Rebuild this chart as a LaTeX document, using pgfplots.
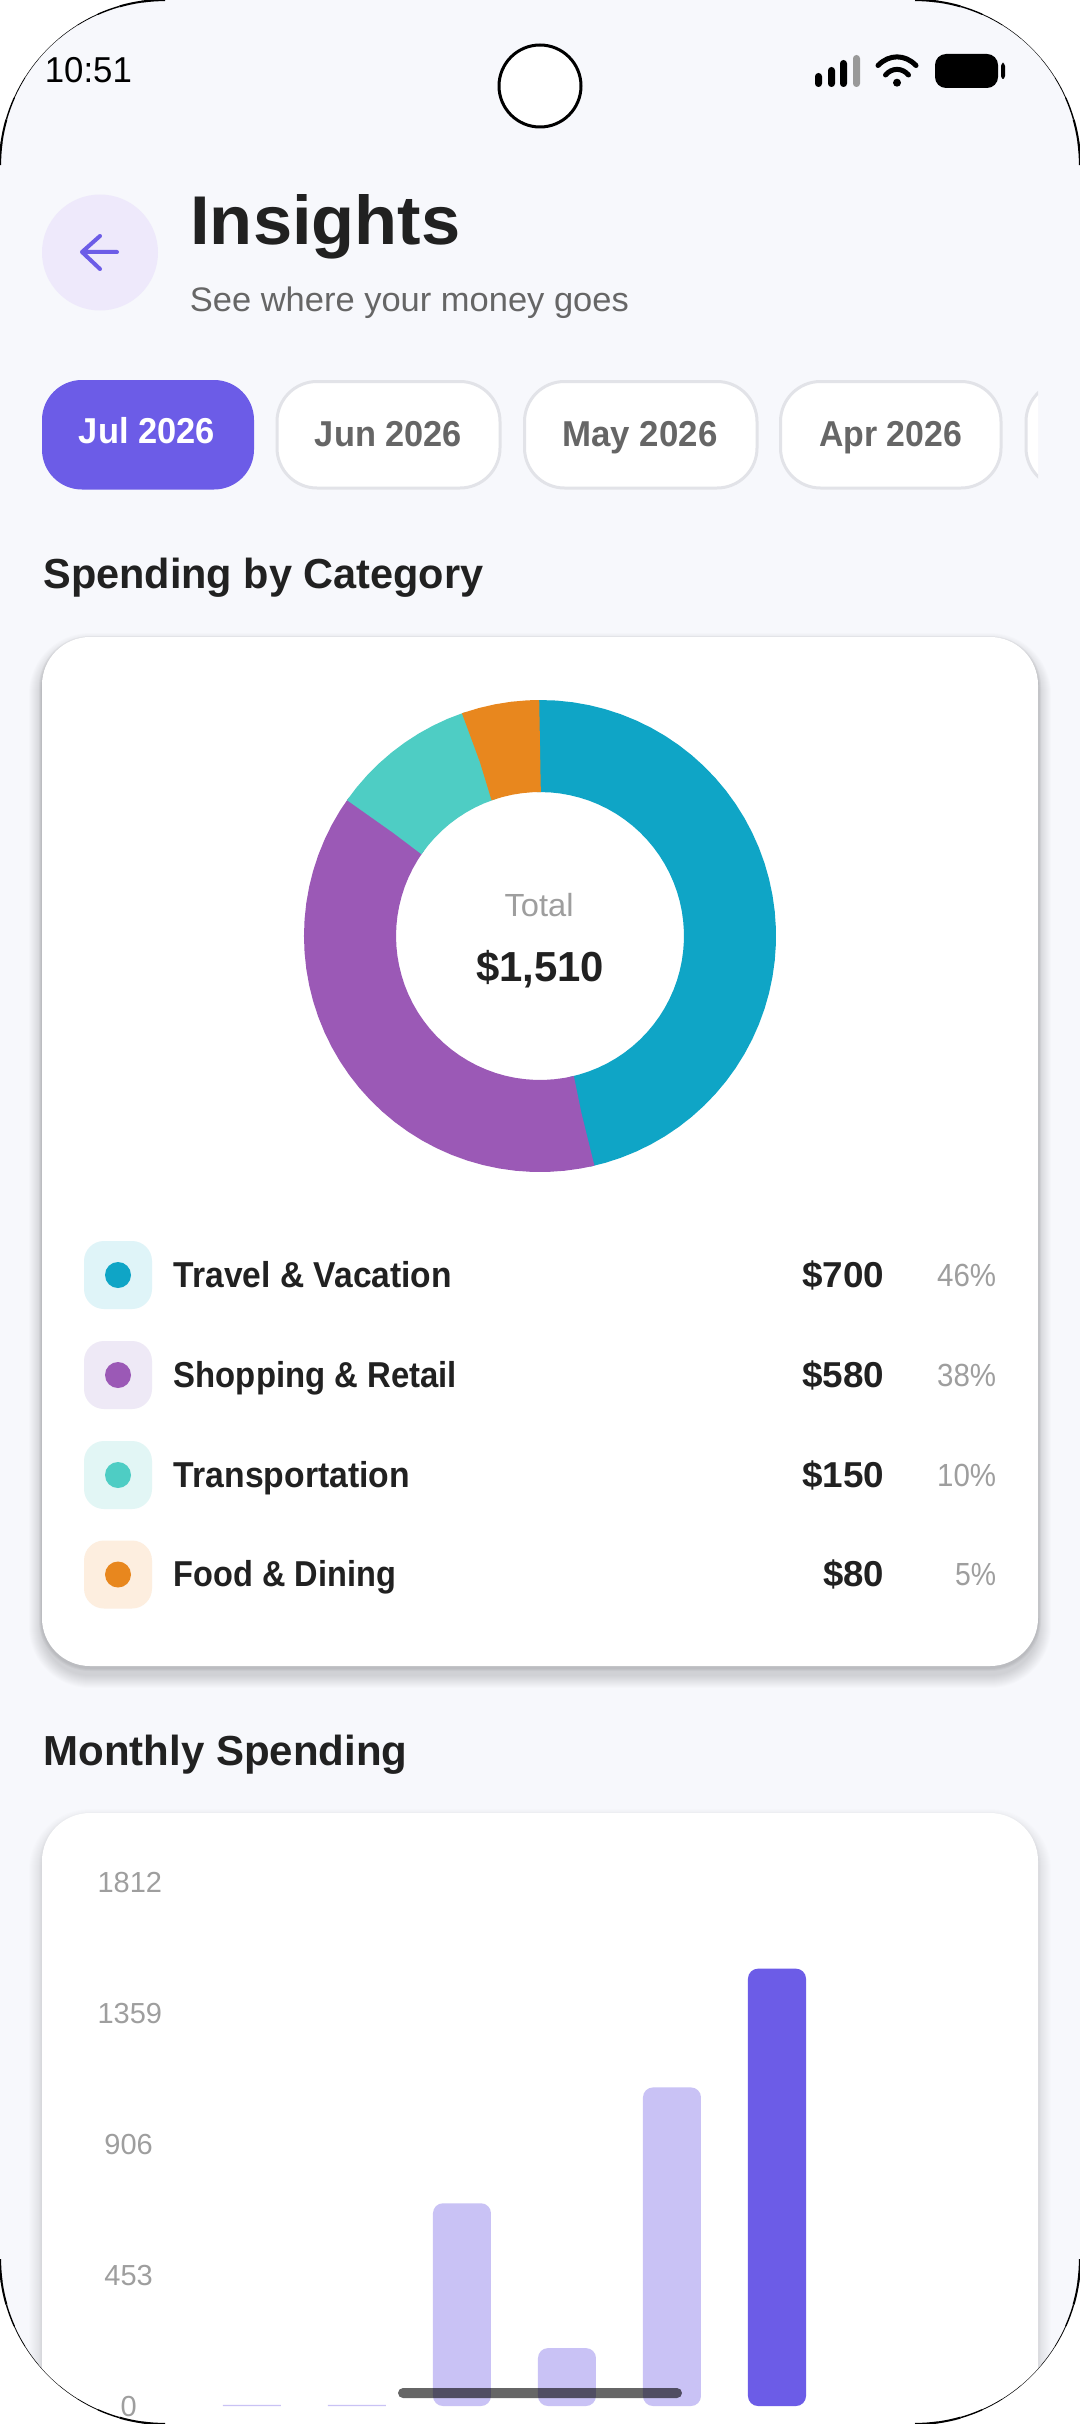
\documentclass[border=0pt]{standalone}
\usepackage{fontspec}
\usepackage{graphicx}
\usepackage{pgfplots}
\pgfplotsset{compat=1.18}
\setmainfont{Liberation Sans}
\definecolor{bg}{HTML}{F7F8FC}
\definecolor{accent}{HTML}{6C5CE7}
\definecolor{soft}{HTML}{C9C2F5}
\definecolor{backc}{HTML}{EEE9FB}
\definecolor{ink}{HTML}{212121}
\definecolor{mid}{HTML}{666666}
\definecolor{muted}{HTML}{9E9E9E}
\definecolor{chipb}{HTML}{E2E3E8}
\definecolor{cTravel}{HTML}{0FA5C6}
\definecolor{cShop}{HTML}{9B59B6}
\definecolor{cTrans}{HTML}{4ECDC4}
\definecolor{cFood}{HTML}{E8871E}
\definecolor{iTravel}{HTML}{DFF4F8}
\definecolor{iShop}{HTML}{EEE9F6}
\definecolor{iTrans}{HTML}{E2F6F5}
\definecolor{iFood}{HTML}{FDEEDF}
% anchor, x px, y px, font pt, width pt, colour, text
\newcommand{\T}[7]{\node[anchor=#1,inner sep=0pt,text=#6] at (#2,#3)
  {\fontsize{#4pt}{#4pt}\selectfont\resizebox{#5pt}{\height}{#7}};}
% x0,y0,x1,y1,opacity of the wide and of the tight shadow
\newcommand{\Card}[6]{%
  \foreach \k in {13,...,1}{
    \pgfmathsetmacro{\rr}{24+0.5*\k}
    \fill[black,opacity=#5,rounded corners=\rr pt]
      ({#1-\k},{#2-\k+9}) rectangle ({#3+\k},{#4+\k+9});
  }
  \foreach \k in {3,...,1}{
    \pgfmathsetmacro{\rr}{24+0.5*\k}
    \fill[black,opacity=#6,rounded corners=\rr pt]
      ({#1-\k},{#2-\k+2}) rectangle ({#3+\k},{#4+\k+2});
  }
  \fill[white,rounded corners=24pt] (#1,#2) rectangle (#3,#4);
}
\newcommand{\Corner}{%
  \foreach \a/\b/\w in {180/172/1.1,172/164/1.0,164/156/0.7,156/148/0.4,148/140/0.25,140/130/0.18,130/122/0.25,122/114/0.4,114/106/0.7,106/98/1.0,98/90/1.1}{
    \draw[black,line width=\w pt] ({165+165*cos(\a)},{165-165*sin(\a)})
      arc[start angle=\a,end angle=\b,radius=82.5pt];
  }%
}
\begin{document}
\begin{tikzpicture}
\path[use as bounding box] (0pt,0pt) rectangle (540pt,-1212pt);
\fill[white] (0pt,0pt) rectangle (540pt,-1212pt);
\begin{scope}
\clip[rounded corners=82.5pt] (0pt,0pt) rectangle (540pt,-1212pt);
\fill[bg] (0pt,0pt) rectangle (540pt,-1212pt);
\begin{scope}[x=0.5pt,y=-0.5pt]
  % status bar
  \T{base west}{44.5}{83}{18}{43.5}{black}{10:51}
  \fill[white,draw=black,line width=1.5pt] (540,86) circle (41);
  \fill[black,rounded corners=1.7pt] (815,73) rectangle (822,87);
  \fill[black,rounded corners=1.7pt] (828,67) rectangle (835,87);
  \fill[black,rounded corners=1.7pt] (840,60) rectangle (847,87);
  \fill[black!40,rounded corners=1.7pt] (853,55) rectangle (860,87);
  \draw[black,line width=2.5pt,line cap=round] (878,65.5) .. controls (889,54) and (905,54) .. (916,65.5);
  \draw[black,line width=2.5pt,line cap=round] (885.5,75) .. controls (892,67.5) and (902,67.5) .. (908.5,75);
  \fill[black] (897,82.7) circle (4);
  \fill[black,rounded corners=5.5pt] (935,54) rectangle (998,88);
  \fill[black,rounded corners=1.5pt] (1001,63) rectangle (1005,79);
  % header
  \fill[backc] (100,252.5) circle (58);
  \draw[accent,line width=2pt,line cap=round,line join=round]
    (117,252) -- (82,252) (100,236) -- (82,252) -- (100,269);
  \T{base west}{190}{245}{34.5}{135}{ink}{\textbf{Insights}}
  \T{base west}{189.5}{311}{17}{219.5}{mid}{See where your money goes}
  % chips
  \fill[accent,rounded corners=20pt] (42,380) rectangle (254,489.5);
  \begin{scope}
    \clip (0,370) rectangle (1038,500);
    \foreach \a/\b in {277/500,524.5/757,780.5/1001,1026/1300}{
      \fill[white,draw=chipb,line width=1.5pt,rounded corners=20pt] (\a,381.5) rectangle (\b,488);
    }
  \end{scope}
  \T{base}{147}{443}{18}{68}{white}{\textbf{Jul 2026}}
  \T{base}{388.5}{446.5}{18}{73.5}{mid}{\textbf{Jun 2026}}
  \T{base}{640}{446.5}{18}{77.5}{mid}{\textbf{May 2026}}
  \T{base}{890.5}{446.5}{18}{71.5}{mid}{\textbf{Apr 2026}}
  \T{base west}{43}{588}{21}{220}{ink}{\textbf{Spending by Category}}
  % card 1
  \Card{42}{637}{1038}{1666}{0.011}{0.03}
  \T{base}{539}{916}{16}{34.5}{muted}{Total}
  \T{base}{540}{981.5}{21}{64}{ink}{\textbf{\$1,510}}
  % legend rows
  \foreach \yy/\bb/\cc/\dd/\lab/\lw/\am/\aw/\pc/\pw in {
    1275/1287/iTravel/cTravel/{Travel \& Vacation}/139/{\$700}/41/{46\%}/29.5,
    1375/1387/iShop/cShop/{Shopping \& Retail}/141.5/{\$580}/41/{38\%}/29.5,
    1475/1487/iTrans/cTrans/{Transportation}/118/{\$150}/41/{10\%}/29.5,
    1574.5/1586/iFood/cFood/{Food \& Dining}/111/{\$80}/30.5/{5\%}/20.5}{
    \fill[\cc,rounded corners=10pt] (84,\yy-34) rectangle (152,\yy+34);
    \fill[\dd] (118,\yy) circle (13);
    \T{base west}{173.5}{\bb}{18}{\lw}{ink}{\textbf{\lab}}
    \T{base east}{884.5}{\bb}{18}{\aw}{ink}{\textbf{\am}}
    \T{base east}{996.5}{\bb-1}{16}{\pw}{muted}{\pc}
  }
  \T{base west}{43}{1765}{21}{182}{ink}{\textbf{Monthly Spending}}
  % card 2
  \Card{42}{1813}{1038}{2600}{0.008}{0.008}
\end{scope}

% donut: amounts 700, 580, 150, 80 of 1510, clockwise from the top
\begin{axis}[at={(270pt,-468pt)},anchor=center,scale only axis,width=250pt,height=250pt,
  xmin=-250,xmax=250,ymin=-250,ymax=250,hide axis,clip=false]
\addplot[cTravel,line width=46pt,no marks,data cs=polar] coordinates {
(90.6,190)(90.5,190)(86,190)(82,190)(78,190)(74,190)(70,190)(66,190)(62,190)(58,190)(54,190)(50,190)(46,190)(42,190)(38,190)(34,190)(30,190)(26,190)(22,190)(18,190)(14,190)(10,190)(6,190)(2,190)(-2,190)(-6,190)(-10,190)(-14,190)(-18,190)(-22,190)(-26,190)(-30,190)(-34,190)(-38,190)(-42,190)(-46,190)(-50,190)(-54,190)(-58,190)(-62,190)(-66,190)(-70,190)(-74,190)(-77.5,190)(-77.6,190)};
\addplot[cShop,line width=46pt,no marks,data cs=polar] coordinates {
(-76.8,190)(-76.9,190)(-80,190)(-84,190)(-88,190)(-92,190)(-96,190)(-100,190)(-104,190)(-108,190)(-112,190)(-116,190)(-120,190)(-124,190)(-128,190)(-132,190)(-136,190)(-140,190)(-144,190)(-148,190)(-152,190)(-156,190)(-160,190)(-164,190)(-168,190)(-172,190)(-176,190)(-180,190)(-184,190)(-188,190)(-192,190)(-196,190)(-200,190)(-204,190)(-208,190)(-212,190)(-215.8,190)(-215.9,190)};
\addplot[cTrans,line width=46pt,no marks,data cs=polar] coordinates {
(-215.1,190)(-215.2,190)(-219,190)(-223,190)(-227,190)(-231,190)(-235,190)(-239,190)(-243,190)(-247,190)(-251.5,190)(-251.6,190)};
\addplot[cFood,line width=46pt,no marks,data cs=polar] coordinates {
(-250.9,190)(-251,190)(-255,190)(-259,190)(-263,190)(-267,190)(-269.9,190)(-270,190)};
\end{axis}

% monthly bars
\begin{axis}[at={(80pt,-1203pt)},anchor=south west,scale only axis,width=413.5pt,height=262.4pt,
  ybar,bar width=29pt,clip=false,
  xmin=-0.876,xmax=7,ymin=0,ymax=1812,
  axis line style={draw=none},major tick length=0pt,tick style={draw=none},
  xtick=\empty,ytick={0,453,906,1359,1812},
  /pgf/number format/.cd,1000 sep={},assume math mode=true,/pgfplots/.cd,
  yticklabel style={font=\fontsize{14.5pt}{14.5pt}\selectfont,text=muted,inner sep=0pt,
    anchor=east,text width=31pt,align=center,yshift=-0.4pt}]
\addplot[fill=soft,draw=none,bar shift=0pt] coordinates {(0,4)(1,4)};
\addplot[fill=soft,draw=none,bar shift=0pt,rounded corners=5pt] coordinates {(2,700)(3,200)(4,1100)};
\addplot[fill=accent,draw=none,bar shift=0pt,rounded corners=5pt] coordinates {(5,1510)};
\end{axis}

\begin{scope}[x=0.5pt,y=-0.5pt]
  \fill[black,opacity=0.6,rounded corners=2.5pt] (398,2388) rectangle (682,2398);
\end{scope}
\end{scope}
% corner arcs of the device outline, thin at the middle of each corner
\begin{scope}[x=0.5pt,y=-0.5pt]
  \begin{scope}\Corner\end{scope}
  \begin{scope}[xshift=540pt,xscale=-1]\Corner\end{scope}
  \begin{scope}[yshift=-1212pt,yscale=-1]\Corner\end{scope}
  \begin{scope}[xshift=540pt,yshift=-1212pt,xscale=-1,yscale=-1]\Corner\end{scope}
\end{scope}
\end{tikzpicture}
\end{document}
